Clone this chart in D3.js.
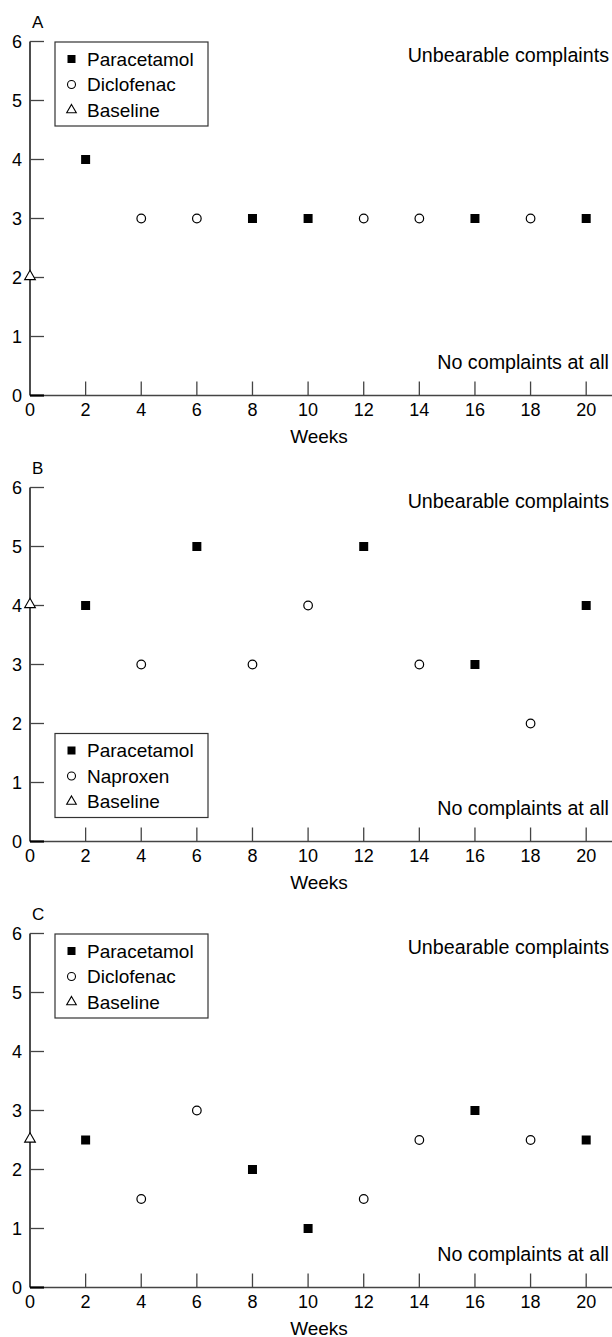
<!DOCTYPE html>
<html>
<head>
<meta charset="utf-8">
<script src="https://cdn.jsdelivr.net/npm/d3@7"></script>
<style>
  body { margin: 0; background: #fff; }
  svg { display: block; font-family: "Liberation Sans", Arial, sans-serif; }
</style>
</head>
<body>
<div id="chart"></div>
<script>
// data
var weeks = [2, 4, 6, 8, 10, 12, 14, 16, 18, 20];
var panelLetters = ["A", "B", "C"];
var comparators = ["Diclofenac", "Naproxen", "Diclofenac"];
// P = paracetamol, N = NSAID (comparator)
var treatmentA = ["P", "N", "N", "P", "P", "N", "N", "P", "N", "P"];
var treatmentB = ["P", "N", "P", "N", "N", "P", "N", "P", "N", "P"];
var treatmentC = ["P", "N", "N", "P", "P", "N", "N", "P", "N", "P"];
var scoresA = [4, 3, 3, 3, 3, 3, 3, 3, 3, 3];
var scoresB = [4, 3, 5, 3, 4, 5, 3, 3, 2, 4];
var scoresC = [2.5, 1.5, 3, 2, 1, 1.5, 2.5, 3, 2.5, 2.5];
var baselines = [2, 4, 2.5];
var yTicks = [0, 1, 2, 3, 4, 5, 6];
var xTicks = [0, 2, 4, 6, 8, 10, 12, 14, 16, 18, 20];

var panels = [
  { letter: panelLetters[0], comp: comparators[0], treat: treatmentA, scores: scoresA, base: baselines[0], legendBottom: false },
  { letter: panelLetters[1], comp: comparators[1], treat: treatmentB, scores: scoresB, base: baselines[1], legendBottom: true },
  { letter: panelLetters[2], comp: comparators[2], treat: treatmentC, scores: scoresC, base: baselines[2], legendBottom: false }
];

var width = 612, height = 1337;
var svg = d3.select("#chart").append("svg")
    .attr("width", width)
    .attr("height", height);

var x = d3.scaleLinear().domain([0, 21]).range([30, 614]);
var plotH = 354, gap = 446, firstTop = 41.5;

var triangle = d3.symbol().type(d3.symbolTriangle);

panels.forEach(function(p, i) {
  var top = firstTop + i * gap;
  var bottom = top + plotH;
  var y = d3.scaleLinear().domain([0, 6]).range([bottom, top]);
  var g = svg.append("g");

  // panel letter
  g.append("text")
    .attr("x", 32).attr("y", top - 13.5)
    .style("font-size", "17px")
    .text(p.letter);

  // x axis (line + inward ticks)
  g.append("line")
    .attr("x1", x(0)).attr("x2", x(21))
    .attr("y1", bottom).attr("y2", bottom)
    .attr("stroke", "#444").attr("stroke-width", 1.3);
  g.selectAll(".xt").data(xTicks.slice(1)).join("line")
    .attr("x1", function(d) { return x(d); }).attr("x2", function(d) { return x(d); })
    .attr("y1", bottom).attr("y2", bottom - 14)
    .attr("stroke", "#444").attr("stroke-width", 1.3);
  g.selectAll(".xl").data(xTicks).join("text")
    .attr("x", function(d) { return x(d); })
    .attr("y", bottom + 20)
    .attr("text-anchor", "middle")
    .style("font-size", "18px")
    .text(function(d) { return d; });
  g.append("text")
    .attr("x", 319).attr("y", bottom + 47)
    .attr("text-anchor", "middle")
    .style("font-size", "19px")
    .text("Weeks");

  // y axis
  g.append("line")
    .attr("x1", x(0)).attr("x2", x(0))
    .attr("y1", y(0)).attr("y2", y(6))
    .attr("stroke", "#000").attr("stroke-width", 1.4);
  g.selectAll(".yt").data(yTicks).join("line")
    .attr("x1", x(0)).attr("x2", x(0) + 14)
    .attr("y1", function(d) { return y(d); }).attr("y2", function(d) { return y(d); })
    .attr("stroke", function(d) { return d === 0 ? "#000" : "#444"; })
    .attr("stroke-width", function(d) { return d === 0 ? 2.2 : 1.3; });
  g.selectAll(".yl").data(yTicks).join("text")
    .attr("x", 22)
    .attr("y", function(d) { return y(d); })
    .attr("dy", "0.36em")
    .attr("text-anchor", "end")
    .style("font-size", "18px")
    .text(function(d) { return d; });

  // annotations
  g.append("text")
    .attr("x", 609).attr("y", top + 20)
    .attr("text-anchor", "end")
    .style("font-size", "19.7px")
    .text("Unbearable complaints");
  g.append("text")
    .attr("x", 609).attr("y", bottom - 27)
    .attr("text-anchor", "end")
    .style("font-size", "19.7px")
    .text("No complaints at all");

  // points
  var pts = weeks.map(function(w, k) { return { week: w, score: p.scores[k], t: p.treat[k] }; });
  g.selectAll(".sq").data(pts.filter(function(d) { return d.t === "P"; })).join("rect")
    .attr("x", function(d) { return x(d.week) - 4.5; })
    .attr("y", function(d) { return y(d.score) - 4.5; })
    .attr("width", 9).attr("height", 9)
    .attr("fill", "#000");
  g.selectAll(".ci").data(pts.filter(function(d) { return d.t === "N"; })).join("circle")
    .attr("cx", function(d) { return x(d.week); })
    .attr("cy", function(d) { return y(d.score); })
    .attr("r", 4.3)
    .attr("fill", "#fff").attr("stroke", "#000").attr("stroke-width", 1.2);
  g.append("path")
    .attr("d", triangle.size(50)())
    .attr("transform", "translate(" + x(0) + "," + (y(p.base) - 1) + ")")
    .attr("fill", "#fff").attr("stroke", "#000").attr("stroke-width", 1.1);

  // legend
  var ly = p.legendBottom ? top + 246 : top + 0.5;
  var lg = g.append("g").attr("transform", "translate(55," + ly + ")");
  lg.append("rect")
    .attr("width", 153).attr("height", 84)
    .attr("fill", "#fff").attr("stroke", "#333").attr("stroke-width", 1.2);
  var items = ["Paracetamol", p.comp, "Baseline"];
  items.forEach(function(name, k) {
    var cy = 17 + k * 25.5;
    if (k === 0) {
      lg.append("rect").attr("x", 12.5).attr("y", cy - 4).attr("width", 8).attr("height", 8).attr("fill", "#000");
    } else if (k === 1) {
      lg.append("circle").attr("cx", 16.5).attr("cy", cy).attr("r", 4)
        .attr("fill", "#fff").attr("stroke", "#000").attr("stroke-width", 1.1);
    } else {
      lg.append("path").attr("d", triangle.size(40)())
        .attr("transform", "translate(16.5," + cy + ")")
        .attr("fill", "#fff").attr("stroke", "#000").attr("stroke-width", 1.1);
    }
    lg.append("text")
      .attr("x", 32).attr("y", cy)
      .attr("dy", "0.36em")
      .style("font-size", "19px")
      .text(name);
  });
});
</script>
</body>
</html>
